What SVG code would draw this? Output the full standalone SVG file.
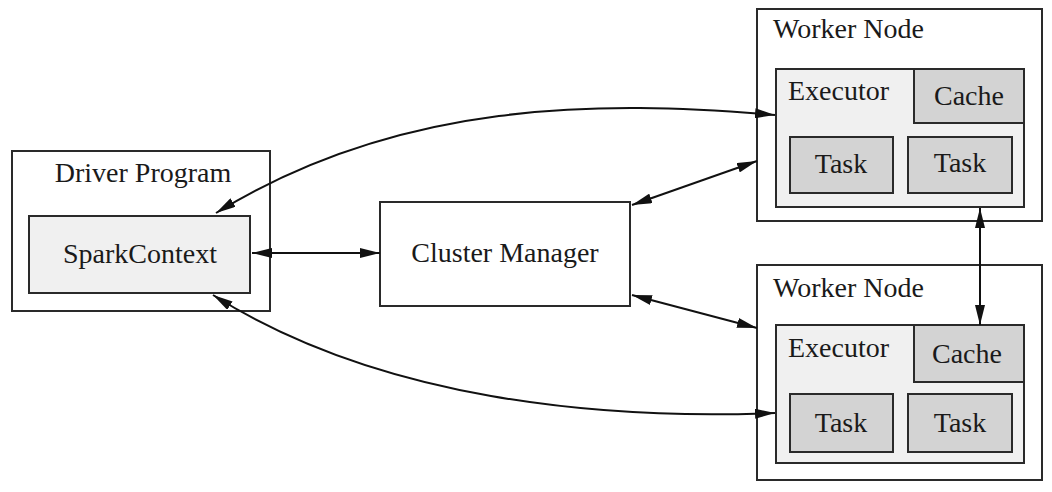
<svg xmlns="http://www.w3.org/2000/svg" width="1052" height="492" viewBox="0 0 1052 492">
<defs>
<marker id="ah" viewBox="0 0 20 10" refX="20" refY="5" markerWidth="20" markerHeight="10" markerUnits="userSpaceOnUse" orient="auto-start-reverse">
<path d="M0,0 L20,5 L0,10 Z" fill="#111"/>
</marker>
<style>
.box{stroke:#2a2a2a;stroke-width:2}
.outer{fill:#fff}
.light{fill:#f0f0f0}
.dark{fill:#d3d3d3}
.t{font-family:"Liberation Serif","Times New Roman",serif;font-size:28px;fill:#1a1a1a}
.c{text-anchor:middle}
.con{fill:none;stroke:#111;stroke-width:2}
</style>
</defs>
<rect width="1052" height="492" fill="#fff"/>
<g id="driver">
<rect class="box outer" x="12" y="151" width="258" height="160"/>
<text class="t c" x="143" y="182">Driver Program</text>
</g>
<g id="sparkcontext">
<rect class="box light" x="29" y="216" width="221" height="77"/>
<text class="t c" x="140" y="263">SparkContext</text>
</g>
<g id="cluster-manager">
<rect class="box outer" x="380" y="202" width="250" height="104"/>
<text class="t c" x="505" y="262">Cluster Manager</text>
</g>
<g id="worker1">
<rect class="box outer" x="757" y="9" width="285" height="212"/>
<text class="t" x="773" y="38">Worker Node</text>
<rect class="box light" x="776" y="69" width="248" height="138"/>
<text class="t" x="788" y="100">Executor</text>
<rect class="box dark" x="914" y="69" width="110" height="54"/>
<text class="t c" x="969" y="105">Cache</text>
<rect class="box dark" x="790" y="137" width="103" height="56"/>
<text class="t c" x="841" y="173">Task</text>
<rect class="box dark" x="908" y="137" width="104" height="56"/>
<text class="t c" x="960" y="172">Task</text>
</g>
<g id="worker2">
<rect class="box outer" x="757" y="265" width="285" height="215"/>
<text class="t" x="773" y="297">Worker Node</text>
<rect class="box light" x="776" y="325" width="248" height="138"/>
<text class="t" x="788" y="357">Executor</text>
<rect class="box dark" x="914" y="325" width="110" height="57"/>
<text class="t c" x="967" y="363">Cache</text>
<rect class="box dark" x="790" y="394" width="103" height="58"/>
<text class="t c" x="841" y="432">Task</text>
<rect class="box dark" x="908" y="394" width="104" height="58"/>
<text class="t c" x="960" y="432">Task</text>
</g>
<g id="connectors">
<path class="con" d="M252,253 L380,253" marker-start="url(#ah)" marker-end="url(#ah)"/>
<path class="con" d="M632,205 L757,161" marker-start="url(#ah)" marker-end="url(#ah)"/>
<path class="con" d="M632,295 L757,328" marker-start="url(#ah)" marker-end="url(#ah)"/>
<path class="con" d="M216,213 C400,100 600,100 775,115" marker-start="url(#ah)" marker-end="url(#ah)"/>
<path class="con" d="M213,295 C380,400 600,420 775,413" marker-start="url(#ah)" marker-end="url(#ah)"/>
<path class="con" d="M980,208 L980,325" marker-start="url(#ah)" marker-end="url(#ah)"/>
</g>
</svg>
